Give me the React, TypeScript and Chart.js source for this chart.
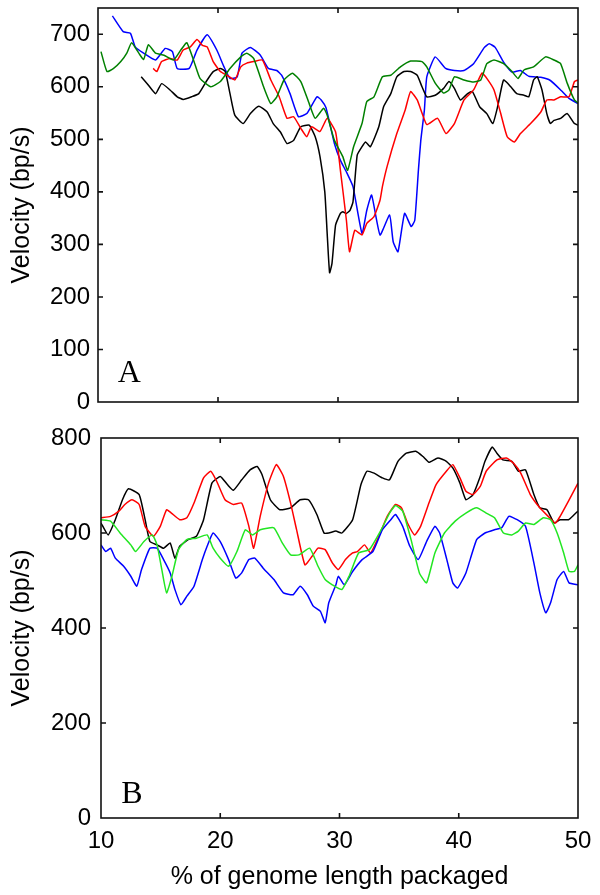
import React, { useEffect, useRef } from "react";
import { Chart, registerables } from "chart.js";

Chart.register(...registerables);

type P = [number, number];

// ---------- Panel A data (x = % genome packaged, y = velocity bp/s) ----------
const aBlue: P[] = [
  [11.2, 735], [12.1, 705], [12.7, 702], [13.1, 676], [13.8, 664], [14.8, 651], [15.6, 673],
  [16.2, 667], [16.6, 635], [17.6, 635], [18.25, 670], [19.1, 699], [19.9, 670], [20.5, 638],
  [21.0, 616], [21.6, 619], [22.0, 664], [22.7, 675], [23.5, 661], [24.2, 635], [24.9, 631],
  [25.3, 622], [26.0, 587], [26.7, 543], [27.4, 549], [28.25, 581], [28.6, 575], [29.0, 560],
  [29.7, 492], [30.2, 460], [30.7, 438], [31.25, 410], [32.0, 321], [32.4, 365], [32.8, 394],
  [33.5, 318], [34.3, 356], [34.6, 305], [35.0, 286], [35.55, 359], [36.1, 334], [36.4, 346],
  [36.7, 441], [36.9, 498], [37.2, 556], [37.4, 619], [38.1, 657], [38.97, 635], [39.7, 631],
  [40.5, 631], [41.3, 644], [42.2, 675], [42.6, 682], [43.1, 675], [43.8, 647], [44.5, 628],
  [45.2, 631], [45.9, 620], [46.9, 618], [47.7, 612], [48.6, 593], [49.25, 578], [50, 568],
];
const aGreen: P[] = [
  [10.25, 667], [10.75, 629], [11.3, 635], [11.9, 648], [12.4, 664], [12.8, 684], [13.4, 664],
  [13.8, 652], [14.2, 680], [14.8, 664], [15.5, 660], [16.3, 651], [16.9, 670], [17.4, 684],
  [18.0, 648], [18.5, 616], [19.4, 600], [20.2, 610], [21.0, 635], [21.9, 657], [22.4, 664],
  [22.97, 654], [23.8, 600], [24.4, 568], [24.9, 581], [25.5, 613], [26.2, 626], [26.9, 610],
  [27.6, 568], [28.1, 540], [28.8, 559], [29.1, 546], [29.7, 498], [30.4, 467], [30.8, 441],
  [31.3, 486], [32.0, 530], [32.4, 572], [33.0, 581], [33.7, 619], [34.4, 622], [35.2, 638],
  [36.05, 649], [37.0, 648], [37.4, 638], [38.1, 607], [38.8, 588], [39.25, 594], [39.7, 619],
  [40.5, 613], [41.3, 609], [41.9, 613], [42.4, 644], [43.0, 651], [43.8, 644], [44.5, 629],
  [45.0, 616], [45.5, 632], [46.3, 638], [47.3, 657], [48.0, 651], [48.55, 644], [49.1, 607],
  [49.7, 575], [50, 569],
];
const aRed: P[] = [
  [14.6, 635], [14.9, 629], [15.3, 648], [16.0, 654], [16.6, 651], [17.1, 670], [17.7, 676],
  [18.25, 690], [18.7, 679], [19.1, 676], [19.6, 648], [20.2, 629], [20.75, 622], [21.4, 613],
  [21.9, 638], [22.4, 645], [22.97, 648], [23.7, 651], [24.4, 613], [25.1, 581], [25.75, 540],
  [26.3, 543], [26.9, 521], [27.4, 505], [27.8, 524], [28.5, 515], [29.1, 540], [29.8, 514],
  [30.2, 441], [30.7, 346], [30.96, 286], [31.4, 327], [32.0, 318], [32.4, 340], [33.0, 353],
  [33.5, 384], [33.7, 410], [34.1, 449], [34.9, 511], [35.6, 556], [36.05, 591], [36.6, 575],
  [37.0, 550], [37.4, 528], [38.3, 540], [39.0, 511], [39.7, 530], [40.5, 575], [41.3, 594],
  [42.0, 626], [42.4, 616], [43.0, 594], [43.55, 550], [44.1, 505], [44.7, 495], [45.2, 511],
  [46.05, 530], [46.9, 552], [47.4, 575], [48.0, 575], [48.55, 581], [49.25, 581], [49.7, 610],
  [50, 613],
];
const aBlack: P[] = [
  [13.6, 619], [14.1, 606], [14.8, 587], [15.3, 606], [16.0, 594], [16.6, 581], [17.1, 576],
  [17.8, 581], [18.4, 587], [19.1, 613], [19.6, 629], [20.2, 635], [20.6, 629], [21.0, 587],
  [21.4, 546], [22.1, 530], [22.7, 549], [23.4, 563], [24.1, 552], [24.6, 530], [25.2, 514],
  [25.75, 492], [26.3, 498], [26.9, 524], [27.6, 527], [28.1, 505], [28.5, 467], [28.9, 400],
  [29.1, 320], [29.3, 246], [29.5, 264], [29.8, 337], [30.2, 359], [30.4, 362], [30.7, 359],
  [31.0, 365], [31.25, 381], [31.6, 470], [32.0, 486], [32.3, 495], [32.7, 486], [33.4, 524],
  [33.8, 562], [34.4, 587], [34.9, 619], [35.5, 629], [36.05, 629], [36.6, 622], [37.0, 600],
  [37.4, 581], [38.1, 584], [38.8, 597], [39.25, 610], [39.7, 597], [40.2, 575], [40.8, 587],
  [41.2, 591], [41.8, 562], [42.4, 549], [42.9, 530], [43.3, 562], [43.8, 613], [44.4, 600],
  [44.9, 587], [45.5, 584], [45.9, 581], [46.3, 613], [46.6, 619], [47.0, 594], [47.4, 549],
  [47.7, 530], [48.0, 536], [48.55, 540], [49.1, 549], [49.7, 530], [50, 527],
];

// ---------- Panel B data ----------
const bBlack: P[] = [
  [10, 621], [10.6, 596], [11.2, 628], [11.8, 670], [12.3, 693], [13.2, 681], [13.7, 628],
  [14.1, 582], [14.7, 575], [15.25, 568], [15.8, 579], [16.2, 547], [16.6, 572], [17.3, 586],
  [18.0, 593], [18.6, 628], [19.3, 705], [20.0, 719], [20.6, 702], [21.1, 690], [21.8, 712],
  [22.5, 733], [23.1, 740], [23.5, 723], [24.2, 670], [25.0, 649], [25.9, 653], [26.7, 670],
  [27.4, 670], [28.1, 639], [28.7, 600], [29.1, 600], [29.7, 604], [30.2, 600], [31.1, 628],
  [31.8, 702], [32.3, 730], [32.9, 726], [33.6, 716], [34.2, 712], [34.9, 751], [35.6, 768],
  [36.4, 772], [37.0, 761], [37.5, 749], [38.25, 758], [38.96, 751], [39.5, 737], [40.1, 705],
  [40.6, 670], [41.2, 681], [41.8, 719], [42.2, 751], [42.8, 781], [43.2, 768], [43.7, 754],
  [44.45, 751], [45.0, 730], [45.6, 733], [46.3, 681], [46.8, 653], [47.4, 649], [48.0, 621],
  [48.5, 628], [49.2, 628], [49.7, 639], [50, 646],
];
const bRed: P[] = [
  [10, 632], [10.8, 635], [11.5, 646], [12.0, 660], [12.6, 670], [13.2, 660], [13.7, 614],
  [14.4, 593], [14.97, 614], [15.5, 649], [15.9, 642], [16.6, 628], [17.2, 632], [17.8, 663],
  [18.6, 716], [19.2, 730], [19.7, 709], [20.4, 670], [21.1, 660], [21.8, 663], [22.4, 614],
  [22.8, 568], [23.35, 635], [24.05, 705], [24.7, 744], [25.3, 719], [25.9, 663], [26.4, 607],
  [27.1, 533], [27.7, 551], [28.2, 568], [28.8, 565], [29.4, 537], [29.9, 523], [30.5, 544],
  [31.1, 558], [31.5, 561], [32.1, 575], [32.6, 558], [33.3, 593], [34.0, 635], [34.7, 660],
  [35.2, 653], [35.7, 621], [36.3, 596], [36.8, 614], [37.5, 663], [38.1, 702], [38.96, 730],
  [39.5, 744], [40.1, 716], [40.6, 688], [41.2, 681], [41.8, 698], [42.3, 730], [43.2, 754],
  [44.0, 758], [44.6, 747], [45.2, 726], [46.0, 681], [46.8, 653], [47.5, 635], [48.1, 621],
  [48.5, 635], [49.2, 667], [50, 705],
];
const bGreen: P[] = [
  [10, 628], [10.8, 625], [11.6, 600], [12.5, 575], [12.9, 561], [13.6, 582], [14.3, 596],
  [14.7, 575], [15.1, 523], [15.5, 474], [15.95, 509], [16.5, 565], [17.2, 586], [18.0, 589],
  [18.9, 596], [19.4, 568], [20.0, 547], [20.7, 530], [21.4, 561], [22.1, 607], [22.7, 596],
  [23.35, 607], [24.5, 611], [25.2, 579], [25.9, 554], [26.6, 554], [27.5, 568], [28.2, 530],
  [28.8, 502], [29.4, 491], [30.2, 481], [30.8, 509], [31.6, 558], [32.5, 565], [33.5, 607],
  [34.2, 642], [34.7, 658], [35.3, 646], [36.0, 586], [36.7, 516], [37.3, 495], [38.0, 558],
  [38.8, 600], [39.7, 625], [40.6, 642], [41.5, 653], [42.3, 642], [43.0, 632], [43.75, 600],
  [44.45, 596], [45.0, 604], [45.6, 621], [46.3, 618], [47.1, 632], [47.7, 628], [48.25, 600],
  [48.8, 558], [49.25, 519], [49.7, 519], [50, 533],
];
const bBlue: P[] = [
  [10, 575], [10.4, 561], [10.8, 568], [11.2, 547], [11.9, 530], [12.5, 509], [13.0, 488],
  [13.4, 523], [14.1, 568], [14.7, 568], [15.25, 544], [15.8, 516], [16.2, 481], [16.7, 449],
  [17.2, 467], [17.8, 488], [18.5, 544], [18.9, 572], [19.4, 600], [20.0, 582], [20.7, 544],
  [21.3, 505], [21.8, 516], [22.4, 544], [22.9, 547], [23.6, 526], [24.5, 502], [25.3, 474],
  [26.1, 470], [26.7, 488], [27.3, 470], [27.8, 446], [28.4, 435], [28.8, 411], [29.1, 453],
  [29.7, 491], [29.9, 509], [30.4, 491], [31.1, 519], [31.9, 544], [32.8, 561], [33.6, 607],
  [34.3, 628], [34.7, 639], [35.3, 614], [35.9, 572], [36.6, 544], [37.3, 582], [38.0, 614],
  [38.4, 600], [39.0, 544], [39.5, 495], [39.9, 484], [40.6, 516], [41.5, 586], [42.2, 600],
  [43.0, 607], [43.6, 611], [44.2, 635], [44.9, 628], [45.6, 614], [46.3, 537], [46.8, 474],
  [47.3, 432], [47.7, 453], [48.25, 502], [48.8, 519], [49.25, 495], [50, 491],
];

// ---------- Axes ----------
const xTicks = [10, 20, 30, 40, 50];
const aYTicks = [0, 100, 200, 300, 400, 500, 600, 700];
const bYTicks = [0, 200, 400, 600, 800];
const aYMax = 750;
const bYMax = 800;
const yTitle = "Velocity (bp/s)";
const xTitle = "% of genome length packaged";
const aLabel = { text: "A", x: 12.6, y: 38 };
const bLabel = { text: "B", x: 12.6, y: 31 };

const SANS = "'Liberation Sans', Arial, Helvetica, sans-serif";
const SERIF = "'Liberation Serif', 'Times New Roman', serif";
const TICK_SIZE = 24;
const TITLE_SIZE = 25;

const framePlugin = {
  id: "frame",
  afterDatasetsDraw(chart: any, _args: any, opts: any) {
    const { ctx, chartArea: a, scales } = chart;
    ctx.save();
    ctx.strokeStyle = "#111";
    ctx.lineWidth = 1.6;
    ctx.strokeRect(a.left, a.top, a.right - a.left, a.bottom - a.top);
    const L = 5;
    ctx.beginPath();
    for (const v of opts.xTicks) {
      const px = scales.x.getPixelForValue(v);
      if (px <= a.left + 1 || px >= a.right - 1) continue;
      ctx.moveTo(px, a.bottom);
      ctx.lineTo(px, a.bottom - L);
      ctx.moveTo(px, a.top);
      ctx.lineTo(px, a.top + L);
    }
    for (const v of opts.yTicks) {
      const py = scales.y.getPixelForValue(v);
      if (py <= a.top + 1 || py >= a.bottom - 1) continue;
      ctx.moveTo(a.left, py);
      ctx.lineTo(a.left + L, py);
      ctx.moveTo(a.right, py);
      ctx.lineTo(a.right - L, py);
    }
    ctx.stroke();
    const lab = opts.label;
    ctx.fillStyle = "#000";
    ctx.font = `32px ${SERIF}`;
    ctx.textAlign = "center";
    ctx.textBaseline = "alphabetic";
    ctx.fillText(lab.text, scales.x.getPixelForValue(lab.x), scales.y.getPixelForValue(lab.y));
    ctx.restore();
  },
};

const ds = (pts: P[], color: string) => ({
  data: pts.map(([x, y]) => ({ x, y })),
  borderColor: color,
  backgroundColor: color,
  borderWidth: 1.5,
  pointRadius: 0,
  fill: false,
  tension: 0.15,
});

const zeroPad = (s: any) => {
  s.paddingTop = 0;
  s.paddingBottom = 0;
  s.paddingLeft = 0;
  s.paddingRight = 0;
};

function makeConfig(panel: "A" | "B"): any {
  const isA = panel === "A";
  const datasets = isA
    ? [ds(aGreen, "#008000"), ds(aRed, "#ff0000"), ds(aBlack, "#000000"), ds(aBlue, "#0000ff")]
    : [ds(bGreen, "#22e622"), ds(bBlue, "#0000ff"), ds(bRed, "#ff0000"), ds(bBlack, "#000000")];
  const yTicks = isA ? aYTicks : bYTicks;
  return {
    type: "line",
    data: { datasets },
    plugins: [framePlugin],
    options: {
      animation: false,
      responsive: false,
      events: [],
      layout: {
        padding: isA ? { top: 8, right: 22, bottom: 18, left: 0 } : { top: 18, right: 22, bottom: 0, left: 0 },
      },
      plugins: {
        legend: { display: false },
        tooltip: { enabled: false },
        frame: { xTicks, yTicks, label: isA ? aLabel : bLabel },
      },
      scales: {
        x: isA
          ? { type: "linear", min: 10, max: 50, display: false }
          : {
              type: "linear",
              min: 10,
              max: 50,
              afterBuildTicks: (s: any) => {
                s.ticks = xTicks.map((v) => ({ value: v }));
              },
              afterFit: (s: any) => {
                s.height = 77;
                zeroPad(s);
              },
              grid: { display: false, drawTicks: false },
              border: { display: false },
              ticks: { color: "#000", font: { family: SANS, size: TICK_SIZE }, padding: 9, maxRotation: 0, autoSkip: false },
              title: {
                display: true,
                text: xTitle,
                color: "#000",
                font: { family: SANS, size: TITLE_SIZE },
                padding: { top: 0, bottom: 3 },
              },
            },
        y: {
          type: "linear",
          min: 0,
          max: isA ? aYMax : bYMax,
          afterBuildTicks: (s: any) => {
            s.ticks = yTicks.map((v) => ({ value: v }));
          },
          afterFit: (s: any) => {
            s.width = isA ? 98 : 101;
            zeroPad(s);
          },
          grid: { display: false, drawTicks: false },
          border: { display: false },
          ticks: { color: "#000", font: { family: SANS, size: TICK_SIZE }, padding: isA ? 8 : 10, autoSkip: false },
          title: {
            display: true,
            text: yTitle,
            color: "#000",
            font: { family: SANS, size: TITLE_SIZE },
            padding: { top: 7, bottom: 0 },
          },
        },
      },
    },
  };
}

function Panel({ panel, top, height }: { panel: "A" | "B"; top: number; height: number }) {
  const ref = useRef<HTMLCanvasElement | null>(null);
  useEffect(() => {
    if (!ref.current) return;
    const chart = new Chart(ref.current, makeConfig(panel));
    return () => chart.destroy();
  }, [panel]);
  return (
    <canvas
      ref={ref}
      width={600}
      height={height}
      style={{ position: "absolute", left: 0, top, width: 600, height }}
    />
  );
}

export default function App() {
  return (
    <div style={{ position: "absolute", left: 0, top: 0, width: 600, height: 895, background: "#fff" }}>
      <Panel panel="A" top={0} height={420} />
      <Panel panel="B" top={420} height={475} />
    </div>
  );
}
